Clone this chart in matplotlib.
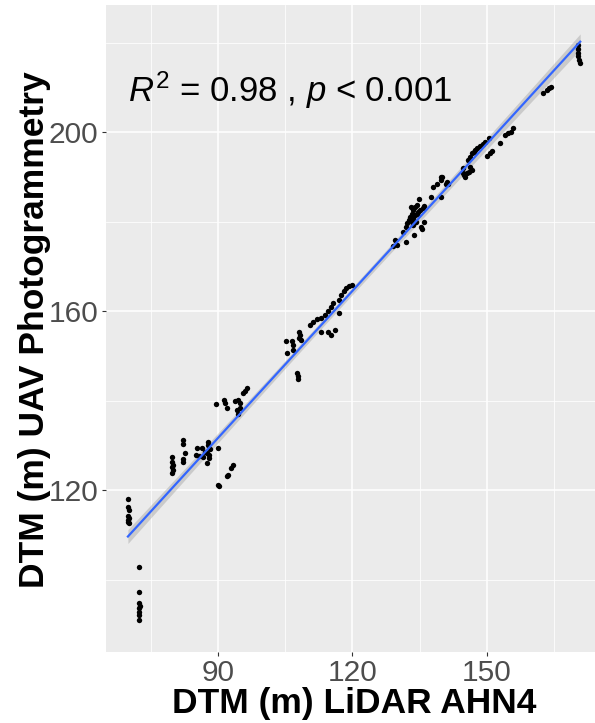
#Gráfico de dispersão: DTM LiDAR AHN4 vs DTM fotogrametria UAV
import numpy as np
import matplotlib
matplotlib.use('Agg')
import matplotlib.pyplot as plt

plt.rcParams['font.family'] = ['Liberation Sans', 'DejaVu Sans']
plt.rcParams['mathtext.fontset'] = 'custom'
plt.rcParams['mathtext.rm'] = 'Liberation Sans'
plt.rcParams['mathtext.it'] = 'Liberation Sans:italic'

#Pontos (x = LiDAR AHN4, y = UAV), agrupados por trecho
lidar_x = [
    # x ~ 70
    69.9, 70.0, 70.1, 70.0, 70.1, 69.9, 70.0, 70.1,
    # x ~ 72 (pontos baixos)
    72.4, 72.4, 72.4, 72.5, 72.4, 72.3, 72.4, 72.4,
    # x ~ 80-82
    79.8, 79.7, 79.9, 79.8, 80.0, 79.8,
    82.3, 82.3, 82.6, 82.1, 82.3,
    # 85-90
    85.4, 86.4, 85.1, 85.8, 86.6, 87.5, 87.1, 87.8, 87.8, 88.2, 88.1, 88.1, 87.5, 90.1,
    90.1, 90.3, 91.9, 92.3, 92.8, 93.3,
    89.6, 91.3, 91.6, 91.9, 93.8, 94.5, 94.9, 94.3, 94.5, 94.9, 95.5, 96.0, 96.4,
    # 105-108
    105.2, 105.5, 106.5, 106.7, 106.7, 108.0, 108.4, 108.0, 108.5, 107.6, 107.8, 107.8,
    # 110-120
    110.5, 111.3, 112.0, 112.9, 113.9, 114.6, 115.1, 115.6, 116.9, 117.4, 118.0, 118.5, 119.2, 120.0,
    112.9, 114.6, 115.1, 116.1, 117.1,
    # 129-141
    129.5, 129.1, 129.9, 131.9, 131.3,
    131.9, 132.2, 132.5, 132.8, 133.2, 133.6, 133.9, 134.3, 134.9,
    133.2, 133.6, 133.9, 134.3, 134.7, 135.1, 133.6, 134.2,
    133.0, 133.4, 135.8, 136.0, 135.2, 135.4, 136.0, 133.7,
    137.5, 139.8, 138.0, 138.8, 139.7, 140.9,
    # 140-156
    139.9, 139.8, 141.0, 141.4,
    144.7, 144.6, 144.9, 145.1, 145.6, 146.1, 146.6, 146.2,
    145.8, 146.2, 146.6, 147.0, 147.3, 147.7, 148.5, 149.1, 149.6,
    149.9, 150.7, 151.1, 150.5, 152.8,
    154.0, 154.8, 155.3, 155.9,
    # 162-171
    162.6, 163.3, 163.9, 164.2,
    170.2, 170.2, 170.3, 170.4, 170.6, 170.8,
]
uav_y = [
    118.0, 116.2, 115.5, 114.2, 113.7, 113.3, 112.8, 112.6,
    102.9, 97.3, 94.7, 94.1, 93.6, 92.8, 92.1, 91.0,
    127.3, 126.3, 125.6, 125.1, 124.5, 123.9,
    131.2, 130.3, 128.2, 126.9, 126.3,
    129.5, 129.5, 127.8, 127.6, 127.3, 128.3, 128.6, 130.8, 130.1, 129.1, 127.8, 127.1, 126.1, 129.3,
    121.1, 120.9, 123.1, 123.4, 124.9, 125.6,
    139.2, 140.1, 139.4, 138.3, 139.8, 140.1, 139.4, 137.9, 137.1, 138.3, 141.6, 142.2, 142.8,
    153.4, 150.6, 153.2, 152.4, 151.3, 155.4, 154.7, 153.9, 153.6, 146.1, 145.4, 144.8,
    156.9, 157.6, 158.2, 158.5, 159.1, 159.9, 161.0, 161.8, 162.5, 163.6, 164.4, 165.1, 165.6, 165.9,
    155.4, 155.4, 154.7, 155.8, 159.5,
    175.9, 174.6, 174.8, 175.5, 177.7,
    178.8, 179.6, 180.3, 181.1, 181.8, 182.6, 183.2, 183.7, 185.0,
    180.0, 180.7, 181.5, 181.8, 182.2, 182.6, 179.2, 180.0,
    183.3, 183.0, 183.0, 183.5, 178.8, 178.3, 180.0, 177.0,
    185.6, 185.6, 187.8, 188.5, 190.0, 188.5,
    190.0, 189.4, 188.9, 188.5,
    191.9, 190.8, 190.4, 190.0, 190.8, 191.1, 191.5, 192.3,
    193.8, 194.5, 195.3, 195.6, 196.0, 196.4, 196.9, 197.3, 197.8,
    194.7, 195.3, 195.8, 198.6, 197.6,
    199.3, 199.7, 200.1, 200.8,
    208.7, 209.4, 209.8, 210.0,
    219.5, 218.5, 217.6, 216.9, 216.1, 215.4,
]

#Reta de regressão
fit_slope = 1.096
fit_intercept = 33.0
r2_text = r'$R^2$ = 0.98 , $p$ < 0.001'

x_ticks = [90, 120, 150]
y_ticks = [120, 160, 200]
x_minor = [75, 105, 135, 165]
y_minor = [100, 140, 180, 220]

x = np.array(lidar_x)
y = np.array(uav_y)

W, H = 595, 723
fig = plt.figure(figsize=(W / 100, H / 100), dpi=100)
#painel: x de 105.5 a 595 px, y de 5 a 652 px
ax = fig.add_axes([105.5 / W, (H - 652) / H, (W - 105.5) / W, 647 / H])
ax.set_facecolor('#EBEBEB')
for s in ax.spines.values():
    s.set_visible(False)

ax.set_xlim(64.9, 174.1)
ax.set_ylim(83.8, 228.4)
ax.set_xticks(x_ticks)
ax.set_yticks(y_ticks)
ax.set_xticks(x_minor, minor=True)
ax.set_yticks(y_minor, minor=True)
ax.grid(True, which='major', color='white', linewidth=1.1)
ax.grid(True, which='minor', color='white', linewidth=0.55)
ax.set_axisbelow(True)
ax.tick_params(which='major', length=3, width=0.8, color='#333333',
               labelsize=21.5, labelcolor='#4D4D4D', pad=2)
ax.tick_params(which='minor', length=0)

#Faixa de confiança (lm) + reta
xs = np.linspace(x.min(), x.max(), 200)
ys = fit_intercept + fit_slope * xs
resid = y - (fit_intercept + fit_slope * x)
n = len(x)
s_err = np.sqrt(np.sum(resid**2) / (n - 2))
sxx = np.sum((x - x.mean())**2)
se = s_err * np.sqrt(1.0 / n + (xs - x.mean())**2 / sxx)
ax.fill_between(xs, ys - 1.97 * se, ys + 1.97 * se, color='#999999', alpha=0.4, linewidth=0, zorder=2)

ax.scatter(x, y, s=15, color='black', linewidths=0, zorder=3)
ax.plot(xs, ys, color='#3366FF', linewidth=1.6, zorder=4)

ax.text(69.9, 206.8, r2_text, fontsize=25, ha='left', va='baseline', zorder=5)

#Títulos dos eixos (posição em pixels da figura)
fig.text(354 / W, (H - 713) / H, 'DTM (m) LiDAR AHN4', fontsize=25.5, fontweight='bold',
         ha='center', va='baseline')
fig.text(44 / W, (H - 330) / H, 'DTM (m) UAV Photogrammetry', fontsize=25.5, fontweight='bold',
         ha='center', va='baseline', rotation=90, rotation_mode='anchor')

plt.savefig('out.png', dpi=100)
